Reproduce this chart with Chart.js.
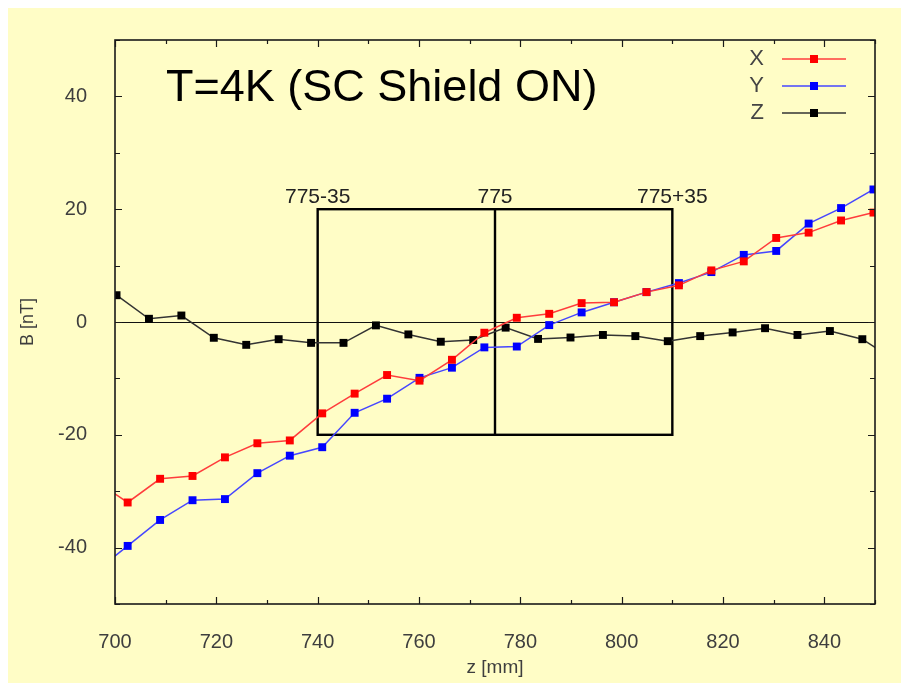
<!DOCTYPE html>
<html>
<head>
<meta charset="utf-8">
<title>T=4K (SC Shield ON)</title>
<script src="https://cdn.jsdelivr.net/npm/chart.js@4.4.1/dist/chart.umd.min.js"></script>
<style>
  html, body { margin: 0; padding: 0; background: #ffffff; }
  #wrap { width: 901px; height: 683px; }
</style>
</head>
<body>
<div id="wrap"><canvas id="bfield" width="901" height="683"></canvas></div>
<script>
// positions along z [mm] where X and Y were sampled (first one lies just left of the plot)
const xyPos = [696.1, 702.5, 708.9, 715.3, 721.7, 728.1, 734.5, 740.9, 747.3, 753.7, 760.1, 766.5,
               772.9, 779.3, 785.7, 792.1, 798.5, 804.9, 811.3, 817.7, 824.1, 830.5, 836.9, 843.3, 849.7];
const bx = [-28.1, -32.0, -27.8, -27.3, -24.0, -21.5, -21.0, -16.2, -12.7, -9.4, -10.4, -6.7,
            -1.9, 0.75, 1.45, 3.35, 3.5, 5.3, 6.5, 9.15, 10.75, 14.9, 15.85, 18.0, 19.4];
const by = [-44.3, -39.7, -35.1, -31.6, -31.4, -26.8, -23.7, -22.2, -16.1, -13.6, -9.9, -8.1,
            -4.5, -4.35, -0.55, 1.7, 3.5, 5.3, 6.9, 8.85, 11.9, 12.6, 17.45, 20.2, 23.5];

// Z was sampled at slightly shifted positions (last one lies just right of the plot)
const zPos = [700.3, 706.7, 713.1, 719.5, 725.9, 732.3, 738.7, 745.1, 751.5, 757.9, 764.3, 770.7,
              777.1, 783.5, 789.9, 796.3, 802.7, 809.1, 815.5, 821.9, 828.3, 834.7, 841.1, 847.5, 853.9];
const bz = [4.75, 0.57, 1.15, -2.8, -4.05, -3.05, -3.7, -3.7, -0.6, -2.2, -3.5, -3.2,
            -1.0, -3.0, -2.75, -2.3, -2.5, -3.4, -2.5, -1.85, -1.1, -2.3, -1.6, -3.05, -6.8];

// the 775 +/- 35 mm window and its height in nT
const windowZ = [740, 775, 810];
const windowLabels = ['775-35', '775', '775+35'];
const windowB = [-20, 20];

const seriesNames = ['X', 'Y', 'Z'];
const plotTitle = 'T=4K (SC Shield ON)';

const PAPER = '#fffdc6';
const FONT = '"Liberation Sans", Arial, sans-serif';

Chart.defaults.font.family = FONT;
Chart.defaults.color = '#3e3e3e';

function pairs(xs, ys) {
  return xs.map((x, i) => ({ x: x, y: ys[i] }));
}

const paperBg = {
  id: 'paperBg',
  beforeDraw(chart) {
    const ctx = chart.ctx;
    ctx.save();
    ctx.fillStyle = '#ffffff';
    ctx.fillRect(0, 0, chart.width, chart.height);
    ctx.fillStyle = PAPER;
    ctx.fillRect(8, 8, chart.width - 8, chart.height - 8);
    ctx.restore();
  }
};

// zero line plus the window box with its labels
const windowBox = {
  id: 'windowBox',
  beforeDatasetsDraw(chart) {
    const { ctx, chartArea: a, scales: { x, y } } = chart;
    ctx.save();
    ctx.strokeStyle = '#111';
    ctx.lineWidth = 1.2;
    const y0 = Math.round(y.getPixelForValue(0)) + 0.5;
    ctx.beginPath();
    ctx.moveTo(a.left, y0);
    ctx.lineTo(a.right, y0);
    ctx.stroke();

    const l = x.getPixelForValue(windowZ[0]);
    const m = x.getPixelForValue(windowZ[1]);
    const r = x.getPixelForValue(windowZ[2]);
    const t = y.getPixelForValue(windowB[1]);
    const b = y.getPixelForValue(windowB[0]);
    ctx.lineWidth = 2.4;
    ctx.strokeStyle = '#000';
    ctx.strokeRect(l, t, r - l, b - t);
    ctx.beginPath();
    ctx.moveTo(m, t);
    ctx.lineTo(m, b);
    ctx.stroke();

    ctx.fillStyle = '#222';
    ctx.font = '21px ' + FONT;
    ctx.textAlign = 'center';
    ctx.textBaseline = 'alphabetic';
    windowZ.forEach((z, i) => {
      ctx.fillText(windowLabels[i], x.getPixelForValue(z), t - 6);
    });
    ctx.restore();
  }
};

// frame with inward ticks on all four sides, title and key
const frameAndKey = {
  id: 'frameAndKey',
  afterDraw(chart) {
    const { ctx, chartArea: a, scales: { x, y } } = chart;
    ctx.save();
    ctx.strokeStyle = '#1a1a1a';
    ctx.lineWidth = 1.6;
    ctx.strokeRect(a.left, a.top, a.right - a.left, a.bottom - a.top);

    ctx.lineWidth = 1.2;
    ctx.beginPath();
    x.ticks.forEach(tk => {
      const px = Math.round(x.getPixelForValue(tk.value)) + 0.5;
      const len = tk.value % 20 === 0 ? 7 : 4;
      ctx.moveTo(px, a.bottom); ctx.lineTo(px, a.bottom - len);
      ctx.moveTo(px, a.top); ctx.lineTo(px, a.top + len);
    });
    y.ticks.forEach(tk => {
      const py = Math.round(y.getPixelForValue(tk.value)) + 0.5;
      const len = tk.value % 20 === 0 ? 7 : 5;
      ctx.moveTo(a.left, py); ctx.lineTo(a.left + len, py);
      ctx.moveTo(a.right, py); ctx.lineTo(a.right - len, py);
    });
    ctx.stroke();

    ctx.fillStyle = '#000';
    ctx.font = '45px ' + FONT;
    ctx.textAlign = 'left';
    ctx.textBaseline = 'alphabetic';
    ctx.fillText(plotTitle, a.left + 51, a.top + 61);

    chart.data.datasets.forEach((ds, i) => {
      const ry = a.top + 19 + i * 27;
      ctx.fillStyle = '#444';
      ctx.font = '22px ' + FONT;
      ctx.textAlign = 'right';
      ctx.textBaseline = 'middle';
      ctx.fillText(seriesNames[i], a.right - 111, ry);
      ctx.strokeStyle = ds.borderColor;
      ctx.lineWidth = 1.6;
      ctx.beginPath();
      ctx.moveTo(a.right - 93, ry);
      ctx.lineTo(a.right - 29, ry);
      ctx.stroke();
      ctx.fillStyle = ds.pointBackgroundColor;
      ctx.fillRect(a.right - 65, ry - 4, 8, 8);
    });
    ctx.restore();
  }
};

const markerOpts = {
  pointStyle: 'rect',
  pointRadius: 5.6,
  pointHoverRadius: 5.6,
  pointBorderWidth: 0,
  borderWidth: 1.5,
  tension: 0
};

new Chart(document.getElementById('bfield'), {
  type: 'line',
  data: {
    datasets: [
      Object.assign({ label: seriesNames[0], data: pairs(xyPos, bx),
        borderColor: '#ff3c3c', pointBackgroundColor: '#ff0000' }, markerOpts),
      Object.assign({ label: seriesNames[1], data: pairs(xyPos, by),
        borderColor: '#4646ff', pointBackgroundColor: '#0000ff' }, markerOpts),
      Object.assign({ label: seriesNames[2], data: pairs(zPos, bz),
        borderColor: '#333333', pointBackgroundColor: '#000000' }, markerOpts)
    ]
  },
  options: {
    responsive: false,
    animation: false,
    layout: { padding: { left: 0, top: 40, right: 26, bottom: 0 } },
    plugins: {
      legend: { display: false },
      tooltip: { enabled: false },
      title: { display: false }
    },
    scales: {
      x: {
        type: 'linear',
        min: 700,
        max: 850,
        grid: { display: false },
        border: { display: false },
        ticks: {
          stepSize: 10,
          padding: 18,
          maxRotation: 0,
          autoSkip: false,
          font: { size: 20 },
          callback: v => (v % 20 === 0 ? String(v) : '')
        },
        title: { display: true, text: 'z [mm]', font: { size: 19 }, padding: { top: 0, bottom: 4 } },
        afterFit(scale) { scale.height = 79; }
      },
      y: {
        min: -50,
        max: 50,
        grid: { display: false },
        border: { display: false },
        ticks: {
          stepSize: 10,
          padding: 20,
          autoSkip: false,
          font: { size: 20 },
          callback: v => (v % 20 === 0 ? String(v) : '')
        },
        title: { display: true, text: 'B [nT]', font: { size: 18 }, padding: { top: 17, bottom: 0 } },
        afterFit(scale) { scale.width = 115; }
      }
    }
  },
  plugins: [paperBg, windowBox, frameAndKey]
});
</script>
</body>
</html>
